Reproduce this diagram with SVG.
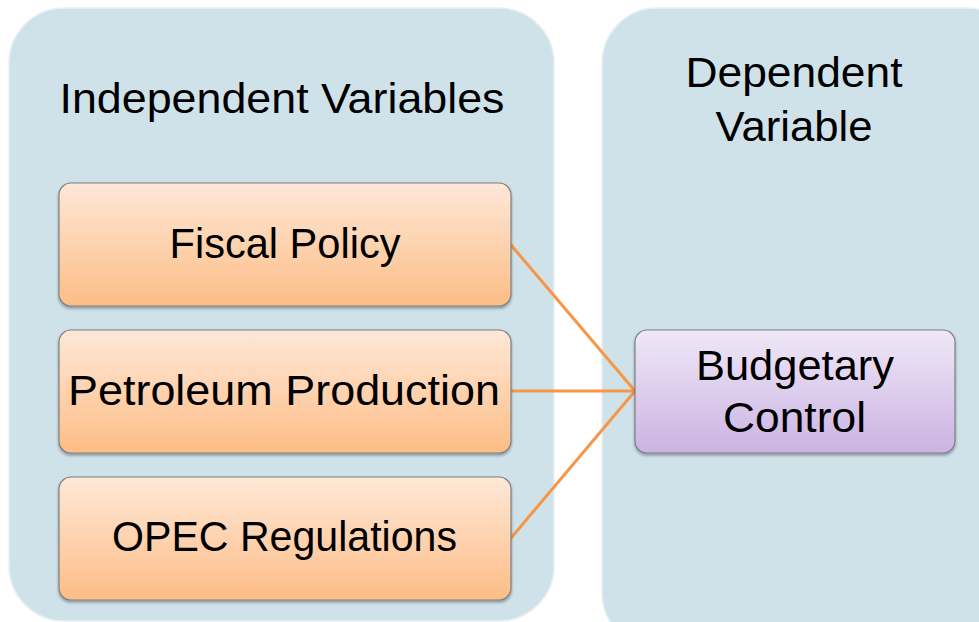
<svg xmlns="http://www.w3.org/2000/svg" width="979" height="622" viewBox="0 0 979 622">
<defs>
<linearGradient id="gOrange" x1="0" y1="0" x2="0" y2="1">
<stop offset="0" stop-color="#FEE8D8"/>
<stop offset="1" stop-color="#FDBD86"/>
</linearGradient>
<linearGradient id="gPurple" x1="0" y1="0" x2="0" y2="1">
<stop offset="0" stop-color="#EFE8F7"/>
<stop offset="1" stop-color="#CBB3E3"/>
</linearGradient>
<filter id="sh" x="-10%" y="-10%" width="120%" height="130%">
<feDropShadow dx="0" dy="2" stdDeviation="1.5" flood-color="#000" flood-opacity="0.35"/>
</filter>
</defs>
<style>
.panel{fill:#CFE2EA;stroke:#E8F0F4;stroke-width:1.5}
.box{stroke:#7F7F7F;stroke-width:1.2;filter:url(#sh)}
.t{font-family:"Liberation Sans",Arial,sans-serif;font-size:42px;fill:#000;text-anchor:middle}
.conn{stroke:#F79646;stroke-width:3;fill:none}
</style>
<rect width="979" height="622" fill="#FFFFFF"/>
<g id="panel-independent">
<rect class="panel" x="9" y="8" width="545" height="613" rx="55" ry="55"/>
<text class="t" x="282" y="113" textLength="445" lengthAdjust="spacingAndGlyphs">Independent  Variables</text>
</g>
<g id="panel-dependent">
<rect class="panel" x="602" y="8" width="420" height="640" rx="55" ry="55"/>
<text class="t" x="794" y="87" textLength="217" lengthAdjust="spacingAndGlyphs">Dependent</text>
<text class="t" x="794" y="141" textLength="157" lengthAdjust="spacingAndGlyphs">Variable</text>
</g>
<g id="connectors">
<line class="conn" x1="511" y1="245" x2="635" y2="391"/>
<line class="conn" x1="511" y1="391" x2="635" y2="391"/>
<line class="conn" x1="511" y1="538" x2="635" y2="391"/>
</g>
<g id="node-fiscal">
<rect class="box" x="59" y="183" width="452" height="123" rx="12" ry="12" fill="url(#gOrange)"/>
<text class="t" x="285" y="258" textLength="231" lengthAdjust="spacingAndGlyphs">Fiscal Policy</text>
</g>
<g id="node-petroleum">
<rect class="box" x="59" y="330" width="452" height="123" rx="12" ry="12" fill="url(#gOrange)"/>
<text class="t" x="284" y="405" textLength="432" lengthAdjust="spacingAndGlyphs">Petroleum Production</text>
</g>
<g id="node-opec">
<rect class="box" x="59" y="477" width="452" height="123" rx="12" ry="12" fill="url(#gOrange)"/>
<text class="t" x="284.5" y="551" textLength="345" lengthAdjust="spacingAndGlyphs">OPEC Regulations</text>
</g>
<g id="node-budgetary">
<rect class="box" x="635" y="330" width="320" height="123" rx="12" ry="12" fill="url(#gPurple)"/>
<text class="t" x="795" y="380" textLength="198" lengthAdjust="spacingAndGlyphs">Budgetary</text>
<text class="t" x="794.5" y="432" textLength="143" lengthAdjust="spacingAndGlyphs">Control</text>
</g>
</svg>
